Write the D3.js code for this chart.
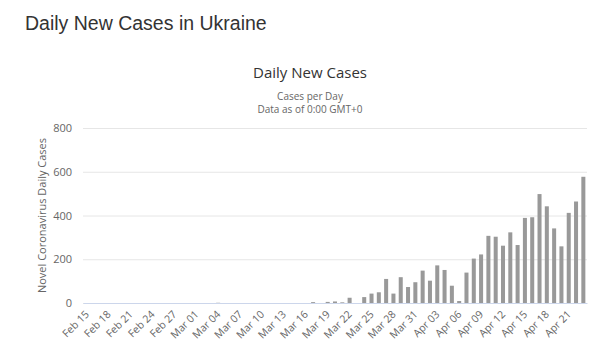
<!DOCTYPE html>
<html><head><meta charset="utf-8">
<script src="https://cdn.jsdelivr.net/npm/d3@7"></script>
<style>body{margin:0;background:#fff}</style>
</head><body>
<svg id="c" width="610" height="352"></svg>
<script>
const categories = (function(){
  const out=[]; const m=["Jan","Feb","Mar","Apr"];
  const start=new Date(2020,1,15), end=new Date(2020,3,23);
  for(let d=new Date(start); d<=end; d.setDate(d.getDate()+1)){
    out.push(m[d.getMonth()]+" "+String(d.getDate()).padStart(2,"0"));
  }
  return out;
})();
const dailyCases = [
  0,0,0,0,0,0,0,0,0,0,0,0,0,0,0,      // Feb 15 - Feb 29
  0,0,0,1,0,0,0,0,0,0,0,0,0,0,0,0,    // Mar 01 - Mar 16
  4,0,5,7,3,24,0,27,43,49,110,43,118,73,95, // Mar 17 - Mar 31
  148,102,172,151,79,9,139,203,222,307,303,262,323,265,389,392,498,442,341,259,412,464,577 // Apr 01 - Apr 23
];
const yTicks = [0,200,400,600,800];
const subtitleLines = ["Cases per Day","Data as of 0:00 GMT+0"];

const svg = d3.select("#c");
const L=83, R=587, T=128, B=303;
const x = d3.scaleBand().domain(categories).range([L,R]).paddingInner(0.45).paddingOuter(0.225);
const y = d3.scaleLinear().domain([0,800]).range([B,T]);

svg.append("text").attr("x",25).attr("y",30).attr("font-family","Liberation Sans, Arial, sans-serif")
  .attr("font-size",19.5).attr("fill","#333").text("Daily New Cases in Ukraine");

svg.append("text").attr("x",310).attr("y",78).attr("text-anchor","middle")
  .attr("font-family","Open Sans, sans-serif").attr("font-size",15).attr("fill","#333").text("Daily New Cases");
svg.selectAll("text.sub").data(subtitleLines).join("text").attr("class","sub")
  .attr("x",310).attr("y",(d,i)=>99.5+i*13.8).attr("text-anchor","middle")
  .attr("font-family","Open Sans, sans-serif").attr("font-size",10).attr("fill","#666").text(d=>d);

// grid
const gy = svg.append("g").attr("transform",`translate(${L},0)`)
  .call(d3.axisLeft(y).tickValues(yTicks).tickSize(-(R-L)).tickPadding(11));
gy.select(".domain").remove();
gy.selectAll(".tick line").attr("stroke","#e6e6e6");
gy.selectAll(".tick text").attr("font-family","Open Sans, sans-serif").attr("font-size",11).attr("fill","#666");

svg.append("text").attr("transform",`translate(46,${(T+B)/2}) rotate(-90)`).attr("text-anchor","middle")
  .attr("font-family","Open Sans, sans-serif").attr("font-size",11).attr("fill","#666").text("Novel Coronavirus Daily Cases");

// bars
svg.append("g").selectAll("rect").data(categories.map((c,i)=>({c,v:dailyCases[i]}))).join("rect")
  .attr("x",d=>x(d.c)).attr("width",x.bandwidth())
  .attr("y",d=>y(d.v)).attr("height",d=>B-y(d.v)).attr("fill","#999");

// x axis
const xAxis = d3.axisBottom(x).tickValues(categories.filter((c,i)=>i%3===0)).tickSize(0).tickPadding(0);
const gx = svg.append("g").attr("transform",`translate(0,${B})`).call(xAxis);
gx.select(".domain").attr("stroke","#ccd6eb");
gx.selectAll(".tick text").attr("font-family","Open Sans, sans-serif").attr("font-size",10.5).attr("fill","#666")
  .attr("text-anchor","end").attr("dy","0").attr("y",0)
  .attr("transform","translate(3,12) rotate(-45)");
</script>
</body></html>
